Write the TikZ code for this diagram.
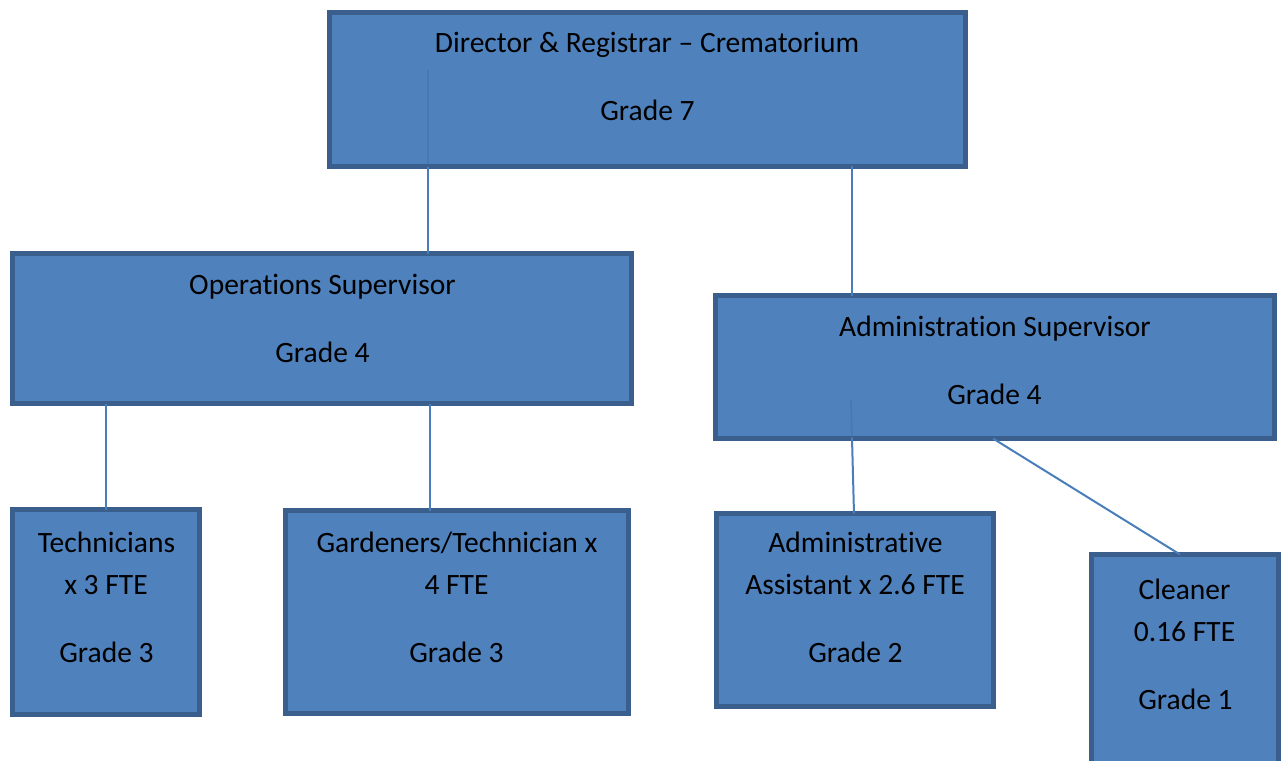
\documentclass[tikz,border=0pt]{standalone}
\usepackage{fontspec}
\usetikzlibrary{calc}
\setmainfont[Ligatures=NoCommon]{Carlito}
\definecolor{boxfill}{HTML}{4F81BD}
\definecolor{boxline}{HTML}{3A5F8D}
\definecolor{linkc}{HTML}{4A7EBB}
\begin{document}
\begin{tikzpicture}[x=0.02cm,y=-0.02cm,
  box/.style={rectangle, draw=boxline, line width=0.1cm, fill=boxfill,
    inner sep=0pt, outer sep=0pt},
  link/.style={draw=linkc, line width=0.04cm},
  faintlink/.style={draw=linkc!80!black, line width=0.03cm, opacity=0.3},
  lbl/.style={font=\fontsize{16.8}{20}\selectfont, anchor=base, inner sep=0pt, text=black}]
\useasboundingbox (0,0) rectangle (1286,761);
\clip (0,0) rectangle (1286,761);

% boxes
\node[box, minimum width=636*0.02cm, minimum height=154*0.02cm] (dir) at (647.5,89.5) {};
\node[box, minimum width=619*0.02cm, minimum height=150*0.02cm] (ops) at (322,328.5) {};
\node[box, minimum width=559*0.02cm, minimum height=143*0.02cm] (adm) at (995,367) {};
\node[box, minimum width=187*0.02cm, minimum height=205*0.02cm] (tech) at (106,612) {};
\node[box, minimum width=343*0.02cm, minimum height=203*0.02cm] (gard) at (457,612) {};
\node[box, minimum width=277*0.02cm, minimum height=193*0.02cm] (asst) at (855,610) {};
\node[box, minimum width=187*0.02cm, minimum height=240*0.02cm] (clean) at (1185,674.5) {};

% connector end points
\coordinate (c1) at (428,70);
\coordinate (c2) at (852,166);
\coordinate (c3) at (430,403.5);
\coordinate (c4) at (851,400);
\coordinate (c5) at (854,513.5);
\coordinate (c6) at (993,438.5);
\coordinate (c7) at (1180,554.5);
\coordinate (c8) at ($(c4)!0.33!(c5)$);

% faint parts of connectors seen through the parent boxes
\draw[faintlink] (c1) -- (c1 |- dir.south);
\draw[faintlink] (c4) -- (c8);

% connectors
\draw[link] (c1 |- dir.south) -- (c1 |- ops.north);
\draw[link] (c2) -- (c2 |- adm.north);
\draw[link] (ops.south -| tech.north) -- (tech.north);
\draw[link] (c3) -- (c3 |- gard.north);
\draw[link] (c8) -- (c5);
\draw[link] (c6) -- (c7);

% labels
\node[lbl] (dir1) at (647,52) {Director \& Registrar – Crematorium};
\node[lbl] (dir2) at (647.5,120) {Grade 7};
\node[lbl] (ops1) at (322.5,294) {Operations Supervisor};
\node[lbl] (ops2) at (322.5,362) {Grade 4};
\node[lbl] (adm1) at (995,336) {Administration Supervisor};
\node[lbl] (adm2) at (994.5,404) {Grade 4};
\node[lbl] (tech1) at (106.5,552) {Technicians};
\node[lbl] (tech2) at (106,594) {x 3 FTE};
\node[lbl] (tech3) at (106.5,662) {Grade 3};
\node[lbl] (gard1) at (457,552) {Gardeners/Technician x};
\node[lbl] (gard2) at (456.5,594) {4 FTE};
\node[lbl] (gard3) at (456.5,662) {Grade 3};
\node[lbl] (asst1) at (855.5,552) {Administrative};
\node[lbl] (asst2) at (855,594) {Assistant x 2.6 FTE};
\node[lbl] (asst3) at (855.5,662) {Grade 2};
\node[lbl] (clean1) at (1184.5,599) {Cleaner};
\node[lbl] (clean2) at (1184.5,641) {0.16 FTE};
\node[lbl] (clean3) at (1185.5,709) {Grade 1};
\end{tikzpicture}
\end{document}
